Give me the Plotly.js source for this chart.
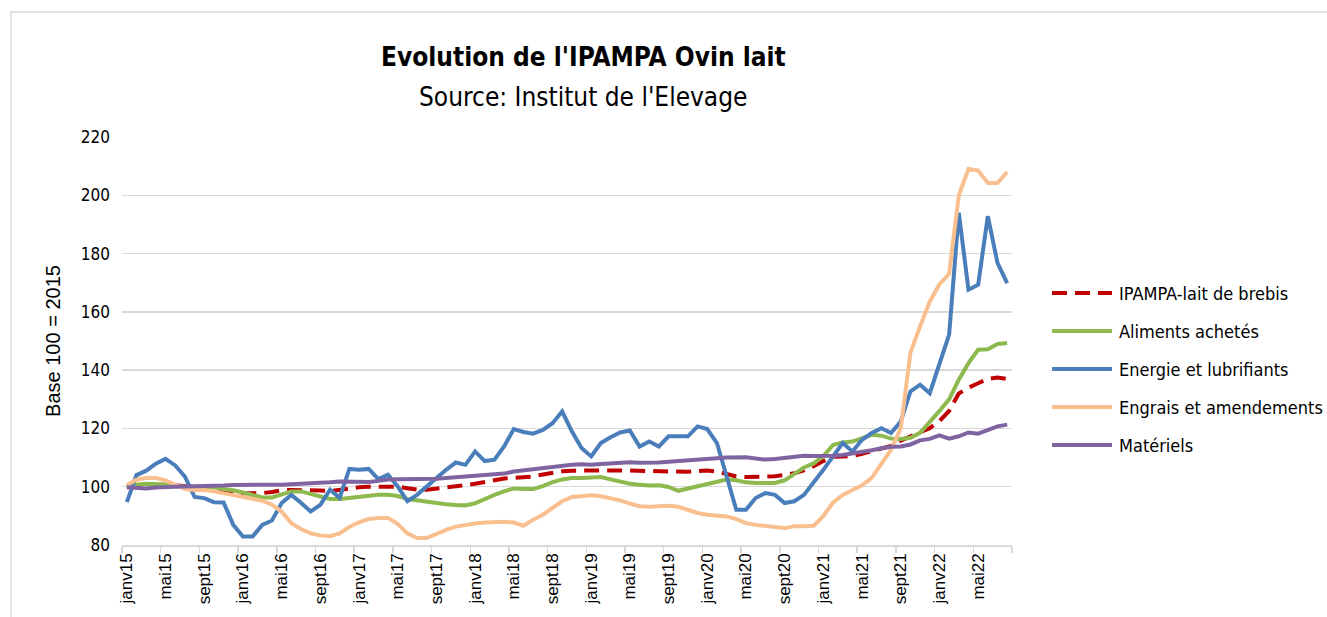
<!DOCTYPE html>
<html>
<head>
<meta charset="utf-8">
<script src="https://cdn.plot.ly/plotly-3.0.1.min.js"></script>
<style>
  html, body { margin: 0; padding: 0; background: #ffffff; }
  #chart { width: 1327px; height: 617px; }
</style>
</head>
<body>
<div id="chart"></div>
<script>
// Month categories janv15 .. août22
const monthNames = ["janv", "févr", "mars", "avr", "mai", "juin", "juil", "août", "sept", "oct", "nov", "déc"];
const months = [];
for (let y = 15; y <= 22; y++) {
  for (let m = 0; m < 12; m++) {
    if (y === 22 && m > 7) break;
    months.push(monthNames[m] + y);
  }
}

const seriesNames = ["IPAMPA-lait de brebis", "Aliments achetés", "Energie et lubrifiants", "Engrais et amendements", "Matériels"];

const ipampa = [100, 100.3, 100.5, 100.6, 100.7, 100.5, 100.2, 100, 99.7, 99.3,
  98.9, 98.3, 97.8, 97.8, 97.8, 98.2, 98.8, 98.9, 98.9, 98.8,
  98.7, 98.5, 99, 99.4, 99.8, 100, 100.1, 100.2, 100, 99.5,
  99, 99, 99.3, 99.7, 100.1, 100.5, 101, 101.6, 102.2, 102.8,
  103, 103.2, 103.5, 104.2, 104.9, 105.3, 105.5, 105.6, 105.6, 105.6,
  105.6, 105.6, 105.5, 105.4, 105.2, 105.1, 105, 104.9, 105.1, 105.4,
  105.6, 105.2, 104.2, 103.5, 103.3, 103.3, 103.4, 103.6, 104, 104.6,
  105.6, 107, 108.8, 110.3, 110.4, 110.5, 111.3, 112.2, 113.2, 114,
  115.8, 117.2, 118.5, 120.1, 122.5, 126, 132, 134, 135.5, 137,
  137.5, 137];

const aliments = [100, 100.7, 101, 101, 100.8, 100.2, 100, 100, 100, 99.8,
  99.2, 98.8, 98, 97.2, 96.3, 96.3, 97.2, 98.4, 98.4, 97.5,
  96.5, 95.8, 95.8, 96.1, 96.5, 97, 97.2, 97.2, 96.8, 95.8,
  95.3, 95, 94.5, 94, 93.7, 93.6, 94.3, 95.8, 97.2, 98.4,
  99.4, 99.2, 99.2, 100.2, 101.6, 102.5, 103, 103, 103.3, 103.3,
  102.5, 101.6, 101, 100.7, 100.4, 100.5, 99.9, 98.6, 99.4, 100,
  100.9, 101.8, 102.5, 102.2, 101.5, 101.3, 101.3, 101.3, 102.2, 104.5,
  106.6, 108, 110.5, 114.3, 115.2, 115.5, 116.5, 117.8, 117.5, 116.5,
  116.4, 116.8, 118.5, 122, 126, 130, 136.7, 142.4, 147, 147.2,
  149, 149.3];

const energie = [94.7, 104, 105.5, 107.9, 109.6, 107.3, 103.5, 96.5, 96.1, 94.7,
  94.6, 86.9, 82.9, 82.9, 86.9, 88.4, 94.4, 97.2, 94.5, 91.5,
  93.8, 99, 96.2, 106.1, 105.8, 106.1, 102.6, 104.1, 100.1, 95,
  97.2, 100.1, 103, 105.8, 108.3, 107.5, 112.1, 108.8, 109.3, 113.8,
  119.8, 118.8, 118.2, 119.5, 121.8, 125.8, 119, 113.3, 110.4, 115,
  117, 118.6, 119.3, 113.8, 115.5, 113.8, 117.3, 117.3, 117.3, 120.7,
  119.8, 115, 103.5, 92.1, 92.1, 96.1, 97.8, 97.2, 94.4, 95,
  97.2, 101.3, 105.8, 110.4, 115, 112.1, 116.1, 118.4, 120.1, 118.4,
  122.4, 132.7, 135, 132.1, 141.9, 152.2, 194, 167.6, 169.3, 192.8,
  176.8, 169.9];

const engrais = [100.5, 102.4, 103, 103, 102.2, 100.7, 99.2, 98.9, 98.9, 98.4,
  97.8, 97.2, 96.7, 96, 95.2, 93.8, 91.5, 87.5, 85.5, 84,
  83.3, 83, 84, 86.2, 87.8, 88.9, 89.3, 89.3, 87.2, 84,
  82.4, 82.4, 83.9, 85.2, 86.3, 86.9, 87.4, 87.7, 88, 88,
  87.7, 86.6, 88.7, 90.4, 92.7, 95, 96.5, 96.9, 97.1, 96.7,
  96.1, 95.3, 94.2, 93.3, 93.1, 93.3, 93.5, 93.1, 92.1, 91,
  90.4, 90.1, 89.8, 88.9, 87.5, 86.9, 86.4, 86.2, 85.8, 86.4,
  86.4, 86.6, 90, 94.5, 97.2, 98.9, 100.5, 103, 108, 112.7,
  120, 146, 155, 163.5, 169.5, 173, 200, 209, 208.5, 204.2,
  204.2, 208];

const materiels = [99.8, 99.5, 99.4, 99.7, 100, 100, 100.1, 100.1, 100.1, 100.2,
  100.4, 100.6, 100.7, 100.7, 100.7, 100.7, 100.7, 100.8, 100.9, 101,
  101.2, 101.5, 101.8, 101.7, 101.5, 101.6, 102, 102.5, 102.6, 102.6,
  102.6, 102.6, 102.7, 103, 103.3, 103.5, 103.7, 104, 104.3, 104.5,
  105.2, 105.6, 106, 106.5, 106.9, 107.3, 107.5, 107.7, 107.5, 107.8,
  108, 108.3, 108.4, 108.2, 108.2, 108.3, 108.6, 108.9, 109.2, 109.4,
  109.5, 109.8, 110, 110.2, 110.1, 109.7, 109.3, 109.5, 109.8, 110.2,
  110.6, 110.5, 110.4, 110.6, 110.9, 111.4, 111.7, 112.5, 113.2, 113.7,
  113.8, 114.5, 115.9, 116.4, 117.6, 116.5, 117.3, 118.6, 118.2, 119.6,
  120.7, 121.3];

const yTickVals = [80, 100, 120, 140, 160, 180, 200, 220];

// Styles
const colors = ["#C00000", "#8DB94F", "#4A7EBB", "#F9BF8F", "#8064A2"];
const dashes = ["15px,8px", "solid", "solid", "solid", "solid"];
const values = [ipampa, aliments, energie, engrais, materiels];

const idx = months.map((_, i) => i);
const labelIdx = idx.filter(i => i % 4 === 0);
const boundaryVals = [];
for (let b = -0.5; b <= months.length - 0.5 + 1e-9; b += 4) boundaryVals.push(b);

const traces = values.map((v, k) => ({
  type: "scatter",
  mode: "lines",
  name: seriesNames[k],
  x: idx,
  y: v,
  line: { color: colors[k], width: 4, dash: dashes[k] },
  showlegend: false,
  hoverinfo: "skip"
}));

// pixel helpers for the plot area
const W = 1327, H = 617;
const L = 122, R = 1012, T = 137, B = 545;
const px = x => (x - L) / (R - L);
const py = y => (B - y) / (B - T);

const narrow = "Liberation Sans Narrow, Arial Narrow, DejaVu Sans Condensed, Liberation Sans, Arial, sans-serif";
const regular = "Liberation Sans, Arial, sans-serif";

const shapes = [
  { type: "rect", xref: "paper", yref: "paper", x0: px(11), x1: px(1345), y0: py(640), y1: py(12),
    line: { color: "#d9d9d9", width: 1.5 }, fillcolor: "rgba(0,0,0,0)", layer: "below" }
];
const annotations = [
  { text: "<b>Evolution de l'IPAMPA Ovin lait</b>", xref: "paper", yref: "paper", x: px(583), y: py(57),
    xanchor: "center", yanchor: "middle", showarrow: false, font: { family: narrow, size: 26, color: "#000000" } },
  { text: "Source: Institut de l'Elevage", xref: "paper", yref: "paper", x: px(583), y: py(97),
    xanchor: "center", yanchor: "middle", showarrow: false, font: { family: narrow, size: 26, color: "#000000" } }
];
const legendY = [293, 331, 369, 407, 445];
seriesNames.forEach((n, k) => {
  shapes.push({ type: "line", xref: "paper", yref: "paper", x0: px(1052), x1: px(1112), y0: py(legendY[k]), y1: py(legendY[k]),
    line: { color: colors[k], width: 4, dash: dashes[k] } });
  annotations.push({ text: n, xref: "paper", yref: "paper", x: px(1117), y: py(legendY[k]), xanchor: "left", yanchor: "middle",
    showarrow: false, font: { family: narrow, size: 18, color: "#000000" } });
});

const layout = {
  width: W, height: H,
  margin: { l: L, r: W - R, t: T, b: H - B, pad: 0 },
  paper_bgcolor: "#ffffff", plot_bgcolor: "#ffffff",
  showlegend: false,
  xaxis: {
    type: "linear",
    range: [-0.5, months.length - 0.5],
    tickmode: "array",
    tickvals: labelIdx,
    ticktext: labelIdx.map(i => months[i]),
    tickangle: -90,
    ticks: "",
    showgrid: false,
    zeroline: false,
    showline: true,
    linecolor: "#d9d9d9",
    linewidth: 1.5,
    tickfont: { family: regular, size: 17, color: "#000000" },
    minor: { tickmode: "array", tickvals: boundaryVals, ticks: "outside", ticklen: 6, tickcolor: "#d9d9d9", tickwidth: 1.5, showgrid: false }
  },
  yaxis: {
    range: [80, 220],
    tickmode: "array",
    tickvals: yTickVals,
    ticks: "",
    showgrid: true,
    gridcolor: "#d9d9d9",
    gridwidth: 1.5,
    zeroline: false,
    showline: false,
    ticklabelstandoff: 11,
    tickfont: { family: narrow, size: 17, color: "#000000" },
    title: { text: "Base 100 = 2015", font: { family: regular, size: 20, color: "#000000" }, standoff: 14 }
  },
  shapes: shapes,
  annotations: annotations
};

Plotly.newPlot("chart", traces, layout, { displayModeBar: false, staticPlot: true });
</script>
</body>
</html>
